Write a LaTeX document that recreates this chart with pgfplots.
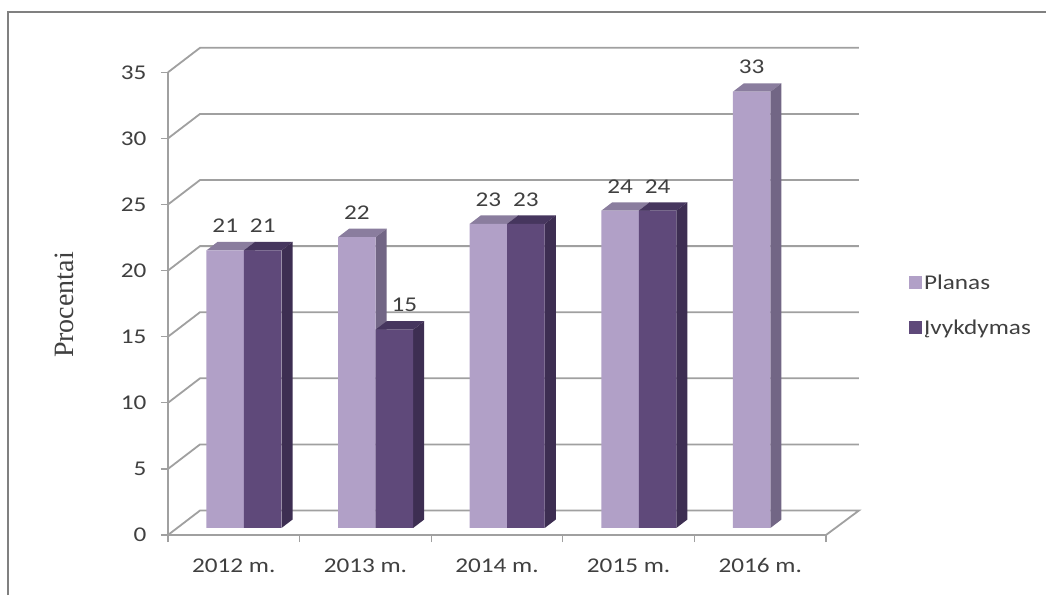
\documentclass[border=0pt]{standalone}
\usepackage{fontspec}
\setmainfont[FakeStretch=1.2]{Carlito}
\newfontfamily\serifl{Liberation Serif}
\usepackage{pgfplots}
\usepackage{pgfplotstable}
\pgfplotsset{compat=1.18}

\definecolor{planas}{HTML}{B1A0C7}
\definecolor{planastop}{HTML}{8A7D9E}
\definecolor{planasside}{HTML}{726685}
\definecolor{ivyk}{HTML}{5F497A}
\definecolor{ivyktop}{HTML}{46365E}
\definecolor{ivykside}{HTML}{3D2E52}
\definecolor{gridc}{HTML}{A0A0A0}
\definecolor{textc}{HTML}{404040}

\pgfplotstableread{
x      planas
0.5775 21
1.5775 22
2.5775 23
3.5775 24
4.5775 33
}\planasdata
\pgfplotstableread{
x      ivyk
0.5775 21
1.5775 15
2.5775 23
3.5775 24
}\ivykdata

% top and side of one bar: left edge, value, top colour, side colour
\newcommand{\faces}[4]{%
  \pgfmathsetmacro\xa{#1}%
  \pgfmathsetmacro\xb{#1+0.285}%
  \pgfmathsetmacro\xc{#1+0.084}%
  \pgfmathsetmacro\xd{#1+0.285+0.084}%
  \pgfmathsetmacro\yt{#2+0.64}%
  \addplot[fill=#3,draw=none,forget plot] coordinates {(\xa,#2)(\xc,\yt)(\xd,\yt)(\xb,#2)} -- cycle;
  \addplot[fill=#4,draw=none,forget plot] coordinates {(\xb,0)(\xd,0.64)(\xd,\yt)(\xb,#2)} -- cycle;
}

\begin{document}
\begin{tikzpicture}[x=1pt,y=1pt]
\path[use as bounding box] (-168,-60) rectangle (878,535);
\fill[white] (-168,-60) rectangle (878,535);
\draw[line width=1.8pt,color=gray] (-160,-60) -- (-160,523) -- (878,523);
\begin{axis}[
    at={(0,0)},
    anchor=south west,
    name=main,
    scale only axis,
    width=658pt,
    height=462.7pt,
    xmin=0, xmax=5,
    ymin=-0.53, ymax=34.47,
    clip=false,
    axis lines=left,
    axis line style={-,line width=1.8pt,color=gridc},
    tick align=outside,
    major tick length=7pt,
    minor tick length=7pt,
    tick style={line width=1.3pt,color=gridc},
    major x tick style={draw=none},
    xtick={0.5,1.5,2.5,3.5,4.5},
    minor xtick={0,1,2,3,4,5},
    xticklabels={2012 m.,2013 m.,2014 m.,2015 m.,2016 m.},
    ytick={-0.53,4.47,9.47,14.47,19.47,24.47,29.47,34.47},
    yticklabels={0,5,10,15,20,25,30,35},
    ticklabel style={font=\fontsize{21}{25}\selectfont,color=textc},
    xticklabel style={yshift=-13pt},
    yticklabel style={xshift=-11pt},
    ylabel={\serifl Procentai},
    ylabel style={at={(axis description cs:-0.158,0.497)},anchor=center,
      font=\fontsize{28}{32}\selectfont,color=textc},
    legend style={
      at={(axis description cs:1.126,0.497)},anchor=west,draw=none,fill=none,
      font=\fontsize{21}{25}\selectfont,text=textc,
      row sep=25pt,inner sep=0pt,
      legend cell align=left,
      /tikz/every even column/.append style={column sep=9pt}},
    legend image code/.code={\fill[#1] (0pt,-6pt) rectangle (13pt,7pt);},
    /pgf/number format/assume math mode=true,
]
% walls and floor
\addplot[gridc,line width=1.8pt,forget plot] coordinates {(0,-0.53)(0.243,1.32)(5.25,1.32)(5,-0.53)};
\addplot[gridc,line width=1.8pt,forget plot] coordinates {(0,4.47)(0.243,6.32)(5.25,6.32)};
\addplot[gridc,line width=1.8pt,forget plot] coordinates {(0,9.47)(0.243,11.32)(5.25,11.32)};
\addplot[gridc,line width=1.8pt,forget plot] coordinates {(0,14.47)(0.243,16.32)(5.25,16.32)};
\addplot[gridc,line width=1.8pt,forget plot] coordinates {(0,19.47)(0.243,21.32)(5.25,21.32)};
\addplot[gridc,line width=1.8pt,forget plot] coordinates {(0,24.47)(0.243,26.32)(5.25,26.32)};
\addplot[gridc,line width=1.8pt,forget plot] coordinates {(0,29.47)(0.243,31.32)(5.25,31.32)};
\addplot[gridc,line width=1.8pt,forget plot] coordinates {(0,34.47)(0.243,36.32)(5.25,36.32)};

% Planas
\faces{0.2925}{21}{planastop}{planasside}
\faces{1.2925}{22}{planastop}{planasside}
\faces{2.2925}{23}{planastop}{planasside}
\faces{3.2925}{24}{planastop}{planasside}
\faces{4.2925}{33}{planastop}{planasside}
\addplot[ybar,bar width=37.5pt,bar shift=-18.75pt,fill=planas,draw=none,
    nodes near coords,
    every node near coord/.append style={font=\fontsize{21}{25}\selectfont,color=textc,
      anchor=south,xshift=-18.75pt,yshift=16.5pt,inner sep=1pt}]
    table[x=x,y=planas] {\planasdata};
\addlegendentry{Planas}

% Ivykdymas
\faces{0.5775}{21}{ivyktop}{ivykside}
\faces{1.5775}{15}{ivyktop}{ivykside}
\faces{2.5775}{23}{ivyktop}{ivykside}
\faces{3.5775}{24}{ivyktop}{ivykside}
\addplot[ybar,bar width=37.5pt,bar shift=18.75pt,fill=ivyk,draw=none,
    nodes near coords,
    every node near coord/.append style={font=\fontsize{21}{25}\selectfont,color=textc,
      anchor=south,xshift=18.75pt,yshift=16.5pt,inner sep=1pt},
    coordinate style/.condition={y<16}{xshift=10pt}]
    table[x=x,y=ivyk] {\ivykdata};
\addlegendentry{Įvykdymas}
\end{axis}
\end{tikzpicture}
\end{document}
